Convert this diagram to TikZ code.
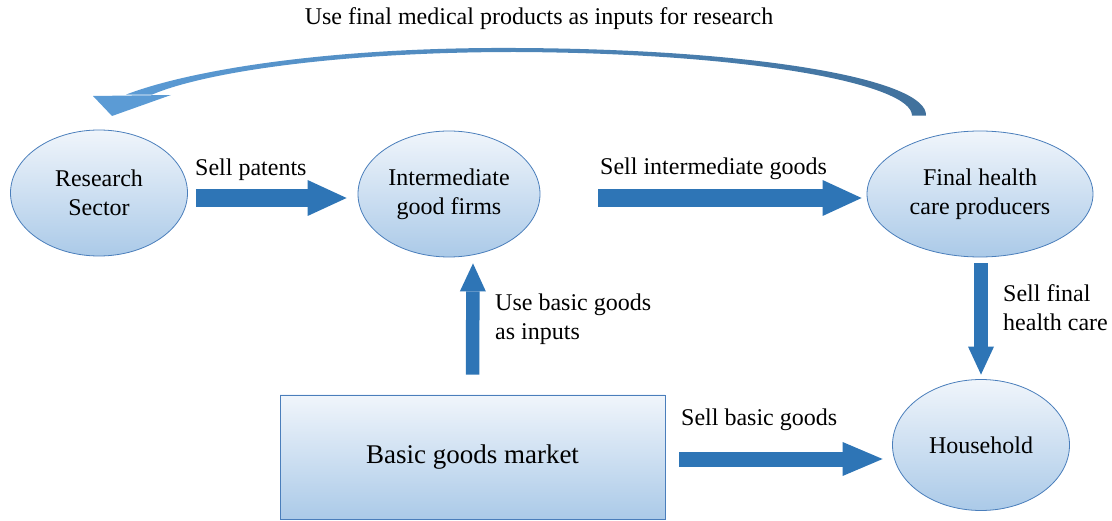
\documentclass[tikz,border=0pt]{standalone}
\usepackage{fontspec}
\setmainfont{Liberation Serif}
\usetikzlibrary{arrows.meta,shapes.geometric}
\definecolor{arrowblue}{HTML}{2E75B6}
\definecolor{edgeblue}{HTML}{4A7EBB}
\definecolor{filltop}{HTML}{F0F5FB}
\definecolor{fillbot}{HTML}{ABCAE8}
\definecolor{curveL}{HTML}{5B9BD5}
\definecolor{curveR}{HTML}{41719C}
\begin{document}
\begin{tikzpicture}[x=1pt,y=-1pt,
  entity/.style={ellipse, draw=edgeblue, line width=0.8pt, top color=filltop, bottom color=fillbot,
    align=center, inner sep=0pt, font=\fontsize{24}{29}\selectfont},
  market/.style={rectangle, draw=edgeblue, line width=0.8pt, top color=filltop, bottom color=fillbot,
    inner sep=0pt, font=\fontsize{27}{32}\selectfont},
  lbl/.style={inner sep=0pt, align=left, font=\fontsize{24}{29}\selectfont},
  flowwide/.style={draw=arrowblue, line width=18pt, line cap=butt,
    -{Triangle[width=36pt,length=39pt,line width=0pt,fill=arrowblue]}},
  flowmid/.style={draw=arrowblue, line width=15pt, line cap=butt,
    -{Triangle[width=34pt,length=40pt,line width=0pt,fill=arrowblue]}},
  flowthin/.style={draw=arrowblue, line width=13.5pt, line cap=butt,
    -{Triangle[width=26pt,length=28pt,line width=0pt,fill=arrowblue]}}
]
\useasboundingbox (0,0) rectangle (1112,521);

% nodes
\node[entity, minimum width=177pt, minimum height=126pt] (rs) at (99,193) {Research\\Sector};
\node[entity, minimum width=182pt, minimum height=126pt] (ig) at (449,194) {Intermediate\\good firms};
\node[entity, minimum width=226pt, minimum height=126pt] (fh) at (980,194) {Final health\\care producers};
\node[entity, minimum width=177pt, minimum height=131pt] (hh) at (981,445) {Household};
\node[market, minimum width=385pt, minimum height=124pt] (bg) at (472.5,457) {Basic goods market};

% straight block arrows
\draw[flowwide] ([shift={(8,5)}]rs.east) -- ([shift={(-11,4)}]ig.west);
\draw[flowwide] ([shift={(58,4)}]ig.east) -- ([shift={(-5,4)}]fh.west);
\draw[flowthin] ([shift={(0,-20)}]bg.north) -- ([shift={(24,6)}]ig.south);
\draw[flowthin] ([shift={(1,6)}]fh.south) -- ([shift={(0,-4.5)}]hh.north);
\draw[flowmid] ([shift={(14,2)}]bg.east) -- ([shift={(-9.5,14)}]hh.west);

% curved feedback arrow
\coordinate (cstart) at ([shift={(-61,-15)}]fh.north);
\coordinate (cend) at ([shift={(40,-35)}]rs.north);
\shade[left color=curveL, right color=curveR]
  ([xshift=7pt]cstart) .. controls (928,80) and (760,49) .. (515,48)
  .. controls (330,47) and (190,70) .. ([xshift=-13pt]cend)
  -- ([xshift=13pt]cend) .. controls (205,72) and (340,52) .. (515,52)
  .. controls (750,53) and (912,84) .. ([xshift=-7pt]cstart) -- cycle;
\fill[curveL] (93,96) -- (171,95) -- (112,116) -- cycle;

% labels
\node[lbl, anchor=base] (title) at (539,25) {Use final medical products as inputs for research};
\node[lbl, anchor=base west] (lpat) at (195,176) {Sell patents};
\node[lbl, anchor=base west] (lint) at (600,175) {Sell intermediate goods};
\node[lbl, anchor=west] (luse) at (495,319) {Use basic goods\\as inputs};
\node[lbl, anchor=west] (lfin) at (1003,308) {Sell final\\health care};
\node[lbl, anchor=base west] (lbas) at (681,425) {Sell basic goods};
\end{tikzpicture}
\end{document}
